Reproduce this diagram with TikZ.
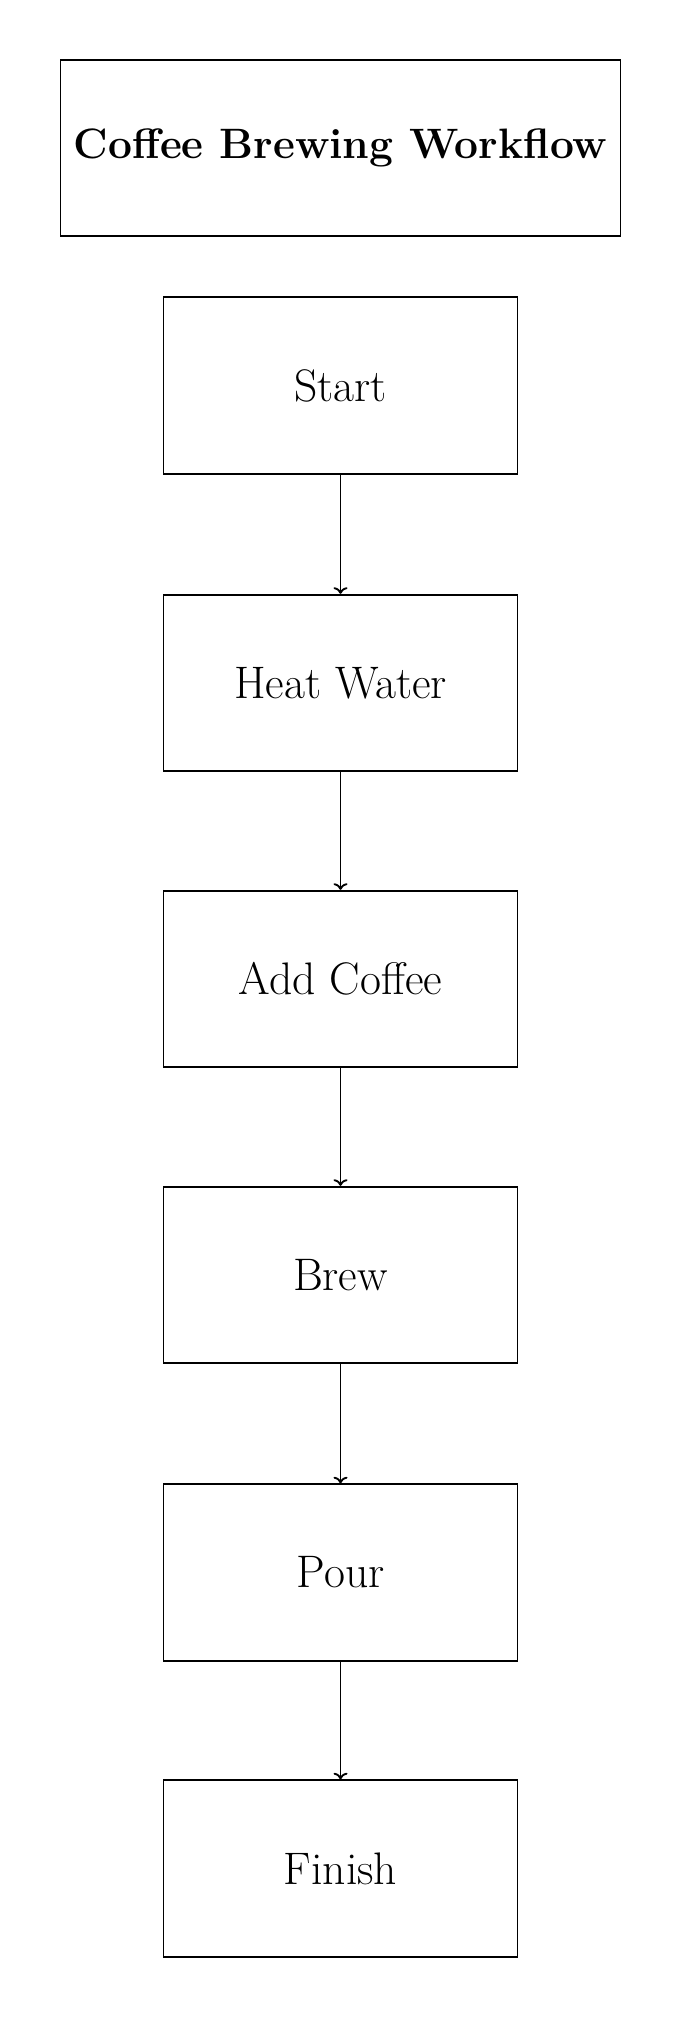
\documentclass[tikz,border=0pt]{standalone}
\usetikzlibrary{arrows.meta}
\begin{document}
\begin{tikzpicture}[x=0.75pt,y=-0.75pt,
  box/.style={draw, line width=1.4pt, minimum width=265.5pt, minimum height=132.3pt, inner sep=0pt, font=\fontsize{34.2}{40}\selectfont},
  titlebox/.style={box, minimum width=420pt, font=\fontsize{31.9}{38}\selectfont\bfseries},
  arr/.style={line width=1.4pt, -{To[length=5pt,width=10.5pt]}}]
\useasboundingbox (0,0) rectangle (681,2020);
\node[titlebox] (title) at (340.5,148) {Coffee Brewing Workflow};
\node[box] (start) at (340.5,385.5) {Start};
\node[box] (heat) at (340.5,683) {Heat Water};
\node[box] (add) at (340.5,979) {Add Coffee};
\node[box] (brew) at (340.5,1275) {Brew};
\node[box] (pour) at (340.5,1572.5) {Pour};
\node[box] (finish) at (340.5,1868.5) {Finish};
\draw[arr] (start) -- (heat);
\draw[arr] (heat) -- (add);
\draw[arr] (add) -- (brew);
\draw[arr] (brew) -- (pour);
\draw[arr] (pour) -- (finish);
\end{tikzpicture}
\end{document}
